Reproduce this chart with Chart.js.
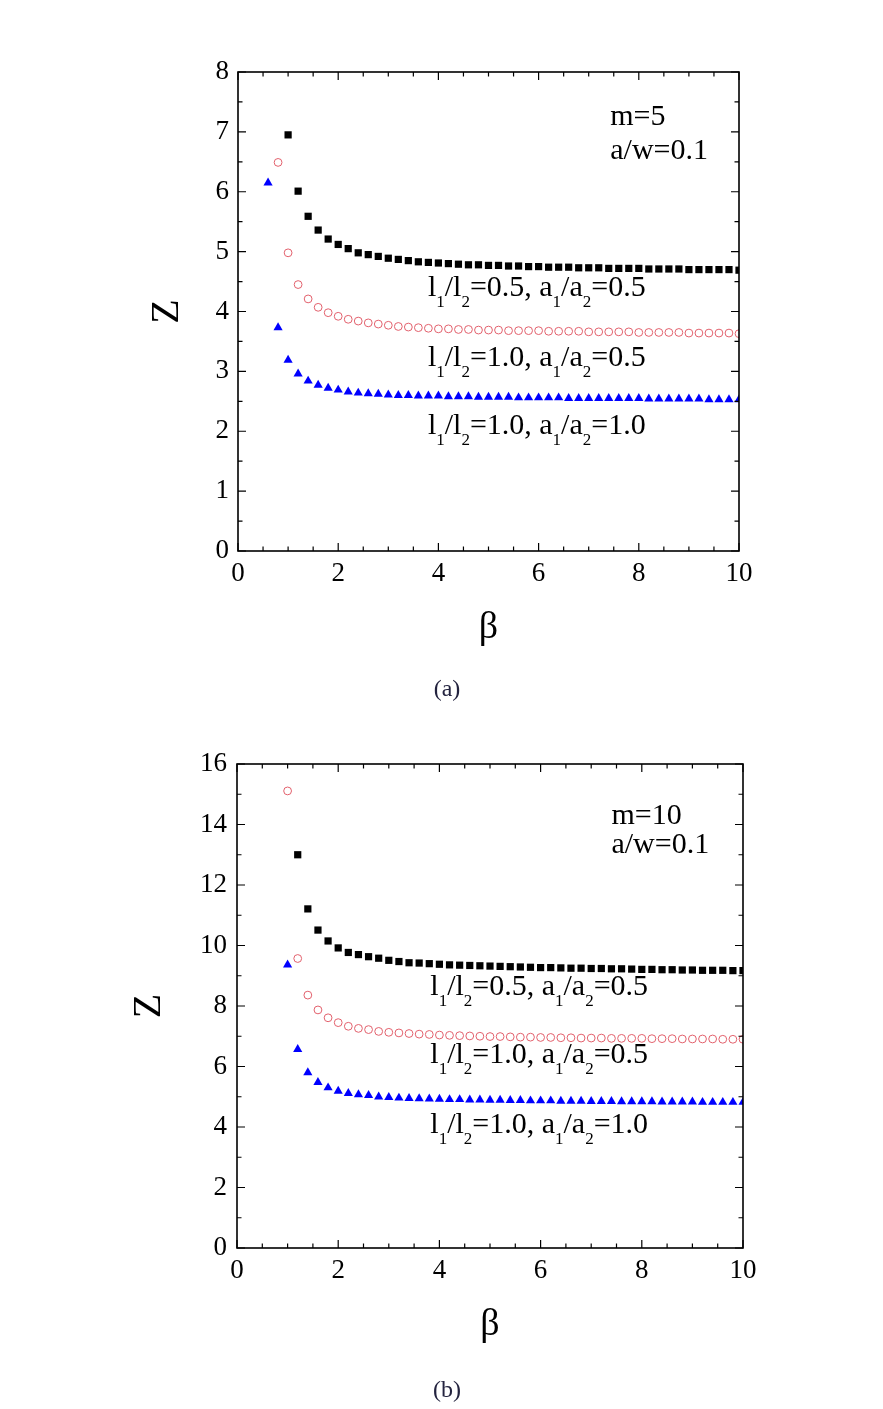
<!DOCTYPE html>
<html>
<head>
<meta charset="utf-8">
<script src="https://cdn.jsdelivr.net/npm/chart.js@4.4.0/dist/chart.umd.min.js"></script>
<style>
  html, body { margin: 0; padding: 0; background: #fff; }
  #wrap { position: relative; width: 883px; height: 1409px; overflow: hidden; }
  .panel { position: absolute; left: 0; width: 883px; }
  .cap {
    position: absolute; left: 397px; width: 100px; text-align: center;
    font: 24px/32px "Liberation Serif", "Times New Roman", serif; color: #23233f;
  }
</style>
</head>
<body>
<div id="wrap">
  <div class="panel" style="top:0"><canvas id="chartA" width="883" height="700"></canvas></div>
  <div class="cap" style="top:672px">(a)</div>
  <div class="panel" style="top:700px"><canvas id="chartB" width="883" height="709"></canvas></div>
  <div class="cap" style="top:1373px">(b)</div>
</div>
<script>
// ===== Data: panel (a), m=5 =====
const betaBlackA = [1.0,1.2,1.4,1.6,1.8,2.0,2.2,2.4,2.6,2.8,3.0,3.2,3.4,3.6,3.8,4.0,4.2,4.4,4.6,4.8,5.0,5.2,5.4,5.6,5.8,6.0,6.2,6.4,6.6,6.8,7.0,7.2,7.4,7.6,7.8,8.0,8.2,8.4,8.6,8.8,9.0,9.2,9.4,9.6,9.8,10.0];
const zBlackA = [6.95,6.01,5.59,5.36,5.21,5.12,5.05,4.98,4.95,4.92,4.89,4.87,4.85,4.83,4.82,4.81,4.80,4.79,4.78,4.78,4.77,4.77,4.76,4.76,4.75,4.75,4.74,4.74,4.74,4.73,4.73,4.73,4.72,4.72,4.72,4.72,4.71,4.71,4.71,4.71,4.70,4.70,4.70,4.70,4.70,4.69];

const betaRedA = [0.8,1.0,1.2,1.4,1.6,1.8,2.0,2.2,2.4,2.6,2.8,3.0,3.2,3.4,3.6,3.8,4.0,4.2,4.4,4.6,4.8,5.0,5.2,5.4,5.6,5.8,6.0,6.2,6.4,6.6,6.8,7.0,7.2,7.4,7.6,7.8,8.0,8.2,8.4,8.6,8.8,9.0,9.2,9.4,9.6,9.8,10.0];
const zRedA = [6.49,4.98,4.45,4.21,4.07,3.98,3.92,3.87,3.84,3.81,3.79,3.77,3.75,3.74,3.73,3.72,3.71,3.71,3.70,3.70,3.69,3.69,3.69,3.68,3.68,3.68,3.68,3.67,3.67,3.67,3.67,3.66,3.66,3.66,3.66,3.66,3.65,3.65,3.65,3.65,3.65,3.64,3.64,3.64,3.64,3.64,3.63];

const betaBlueA = [0.6,0.8,1.0,1.2,1.4,1.6,1.8,2.0,2.2,2.4,2.6,2.8,3.0,3.2,3.4,3.6,3.8,4.0,4.2,4.4,4.6,4.8,5.0,5.2,5.4,5.6,5.8,6.0,6.2,6.4,6.6,6.8,7.0,7.2,7.4,7.6,7.8,8.0,8.2,8.4,8.6,8.8,9.0,9.2,9.4,9.6,9.8,10.0];
const zBlueA = [6.15,3.73,3.19,2.96,2.84,2.77,2.72,2.69,2.66,2.64,2.63,2.62,2.61,2.60,2.60,2.59,2.59,2.59,2.58,2.58,2.58,2.57,2.57,2.57,2.57,2.56,2.56,2.56,2.56,2.56,2.55,2.55,2.55,2.55,2.55,2.55,2.55,2.55,2.54,2.54,2.54,2.54,2.54,2.54,2.53,2.53,2.53,2.53];

// ===== Data: panel (b), m=10 =====
const betaBlackB = [1.2,1.4,1.6,1.8,2.0,2.2,2.4,2.6,2.8,3.0,3.2,3.4,3.6,3.8,4.0,4.2,4.4,4.6,4.8,5.0,5.2,5.4,5.6,5.8,6.0,6.2,6.4,6.6,6.8,7.0,7.2,7.4,7.6,7.8,8.0,8.2,8.4,8.6,8.8,9.0,9.2,9.4,9.6,9.8,10.0];
const zBlackB = [13.0,11.21,10.51,10.15,9.92,9.77,9.70,9.63,9.58,9.51,9.47,9.43,9.42,9.40,9.38,9.36,9.35,9.34,9.33,9.32,9.31,9.30,9.29,9.28,9.27,9.27,9.26,9.25,9.25,9.24,9.24,9.23,9.23,9.22,9.21,9.21,9.20,9.20,9.19,9.19,9.18,9.18,9.18,9.17,9.17];

const betaRedB = [1.0,1.2,1.4,1.6,1.8,2.0,2.2,2.4,2.6,2.8,3.0,3.2,3.4,3.6,3.8,4.0,4.2,4.4,4.6,4.8,5.0,5.2,5.4,5.6,5.8,6.0,6.2,6.4,6.6,6.8,7.0,7.2,7.4,7.6,7.8,8.0,8.2,8.4,8.6,8.8,9.0,9.2,9.4,9.6,9.8,10.0];
const zRedB = [15.11,9.57,8.36,7.87,7.61,7.45,7.33,7.26,7.22,7.16,7.13,7.11,7.09,7.07,7.06,7.04,7.03,7.02,7.01,7.00,6.99,6.99,6.98,6.97,6.97,6.96,6.96,6.95,6.95,6.94,6.94,6.94,6.93,6.93,6.93,6.93,6.92,6.92,6.92,6.91,6.91,6.91,6.91,6.90,6.90,6.90];

const betaBlueB = [1.0,1.2,1.4,1.6,1.8,2.0,2.2,2.4,2.6,2.8,3.0,3.2,3.4,3.6,3.8,4.0,4.2,4.4,4.6,4.8,5.0,5.2,5.4,5.6,5.8,6.0,6.2,6.4,6.6,6.8,7.0,7.2,7.4,7.6,7.8,8.0,8.2,8.4,8.6,8.8,9.0,9.2,9.4,9.6,9.8,10.0];
const zBlueB = [9.36,6.57,5.80,5.48,5.30,5.19,5.11,5.07,5.05,5.00,4.98,4.96,4.95,4.94,4.93,4.92,4.91,4.91,4.90,4.90,4.89,4.89,4.88,4.88,4.87,4.87,4.87,4.86,4.86,4.86,4.85,4.85,4.85,4.84,4.84,4.84,4.84,4.83,4.83,4.83,4.83,4.82,4.82,4.82,4.82,4.82];

// ===== Labels =====
const seriesLabels = ["l_1/l_2=0.5, a_1/a_2=0.5", "l_1/l_2=1.0, a_1/a_2=0.5", "l_1/l_2=1.0, a_1/a_2=1.0"];
const noteA = ["m=5", "a/w=0.1"];
const noteB = ["m=10", "a/w=0.1"];
const xTitle = "β";
const yTitle = "Z";

const SERIF = "'Liberation Serif', 'Times New Roman', serif";

// ===== Helpers =====
function pts(xs, ys) {
  return xs.map((v, i) => ({ x: v, y: ys[i] }));
}

// split "l_1/l_2" into runs of [text, isSub]
function parseRuns(str) {
  const runs = [];
  let buf = "";
  for (let i = 0; i < str.length; i++) {
    if (str[i] === "_") {
      if (buf) runs.push([buf, false]);
      buf = "";
      runs.push([str[i + 1], true]);
      i++;
    } else {
      buf += str[i];
    }
  }
  if (buf) runs.push([buf, false]);
  return runs;
}

// frame + inward ticks on all four sides
const frameTicks = {
  id: "frameTicks",
  afterDatasetsDraw(chart, args, opts) {
    const { ctx, chartArea: a, scales: { x, y } } = chart;
    ctx.save();
    ctx.strokeStyle = "#000";
    ctx.lineWidth = 1.2;
    ctx.beginPath();
    const xn = Math.round((x.max - x.min) / opts.xMinor);
    for (let i = 0; i <= xn; i++) {
      const v = x.min + i * opts.xMinor;
      const px = x.getPixelForValue(v);
      const len = (i % opts.xEvery === 0) ? 8 : 4.5;
      ctx.moveTo(px, a.bottom); ctx.lineTo(px, a.bottom - len);
      ctx.moveTo(px, a.top); ctx.lineTo(px, a.top + len);
    }
    const yn = Math.round((y.max - y.min) / opts.yMinor);
    for (let i = 0; i <= yn; i++) {
      const v = y.min + i * opts.yMinor;
      const py = y.getPixelForValue(v);
      const len = (i % opts.yEvery === 0) ? 8 : 4.5;
      ctx.moveTo(a.left, py); ctx.lineTo(a.left + len, py);
      ctx.moveTo(a.right, py); ctx.lineTo(a.right - len, py);
    }
    ctx.stroke();
    ctx.lineWidth = 1.6;
    ctx.strokeRect(a.left, a.top, a.right - a.left, a.bottom - a.top);
    ctx.restore();
  }
};

// text notes placed in data coordinates
const notes = {
  id: "notes",
  afterDraw(chart, args, opts) {
    const { ctx, scales: { x, y } } = chart;
    ctx.save();
    ctx.fillStyle = "#000";
    ctx.textBaseline = "alphabetic";
    ctx.textAlign = "left";
    opts.items.forEach(it => {
      let px = x.getPixelForValue(it.x);
      const py = y.getPixelForValue(it.y);
      parseRuns(it.text).forEach(([t, sub]) => {
        ctx.font = (sub ? it.sub : it.size) + "px " + SERIF;
        ctx.fillText(t, px, py + (sub ? it.drop : 0));
        px += ctx.measureText(t).width;
      });
    });
    ctx.restore();
  }
};

function makeChart(id, p) {
  const tickFont = { family: SERIF, size: 27 };
  return new Chart(document.getElementById(id), {
    type: "scatter",
    data: {
      datasets: [
        { data: p.black, pointStyle: "rect", radius: 5.1, backgroundColor: "#000", borderWidth: 0, clip: 0 },
        { data: p.red, pointStyle: "circle", radius: 3.9, backgroundColor: "rgba(0,0,0,0)", borderColor: "#e2606c", borderWidth: 1, clip: 0 },
        { data: p.blue, pointStyle: "triangle", radius: 5.3, backgroundColor: "#0000ff", borderWidth: 0, clip: 0 }
      ]
    },
    options: {
      responsive: false,
      animation: false,
      events: [],
      layout: { padding: p.pad },
      plugins: {
        legend: { display: false },
        tooltip: { enabled: false },
        frameTicks: { xMinor: 0.5, xEvery: 4, yMinor: p.yMinor, yEvery: 2 },
        notes: { items: p.notes }
      },
      scales: {
        x: {
          type: "linear", min: 0, max: 10,
          ticks: { stepSize: 2, padding: 7, font: tickFont, color: "#000", maxRotation: 0 },
          grid: { display: false, drawTicks: false },
          border: { display: false },
          title: { display: true, text: xTitle, font: { family: SERIF, size: 38 }, color: "#000", padding: { top: 0, bottom: 0 } },
          afterFit: s => { s.height = 100; }
        },
        y: {
          type: "linear", min: 0, max: p.yMax,
          ticks: { stepSize: p.yStep, padding: p.yPad, font: tickFont, color: "#000" },
          grid: { display: false, drawTicks: false },
          border: { display: false },
          title: { display: true, text: yTitle, font: { family: SERIF, size: 40 }, color: "#000", padding: { top: p.yTitlePad, bottom: 0 } },
          afterFit: s => { s.width = 120; }
        }
      }
    },
    plugins: [frameTicks, notes]
  });
}

// ===== Panel (a) =====
makeChart("chartA", {
  black: pts(betaBlackA, zBlackA),
  red: pts(betaRedA, zRedA),
  blue: pts(betaBlueA, zBlueA),
  yMax: 8, yStep: 1, yMinor: 0.5, yPad: 9, yTitlePad: 25,
  pad: { left: 118, right: 144, top: 72, bottom: 49 },
  notes: [
    { text: noteA[0], x: 7.43, y: 7.12, size: 30 },
    { text: noteA[1], x: 7.43, y: 6.54, size: 30 },
    { text: seriesLabels[0], x: 3.79, y: 4.26, size: 30, sub: 17, drop: 11 },
    { text: seriesLabels[1], x: 3.79, y: 3.09, size: 30, sub: 17, drop: 11 },
    { text: seriesLabels[2], x: 3.79, y: 1.95, size: 30, sub: 17, drop: 11 }
  ]
});

// ===== Panel (b) =====
makeChart("chartB", {
  black: pts(betaBlackB, zBlackB),
  red: pts(betaRedB, zRedB),
  blue: pts(betaBlueB, zBlueB),
  yMax: 16, yStep: 2, yMinor: 1, yPad: 10, yTitlePad: 8,
  pad: { left: 117, right: 140, top: 64, bottom: 61 },
  notes: [
    { text: noteB[0], x: 7.40, y: 14.02, size: 30 },
    { text: noteB[1], x: 7.40, y: 13.07, size: 30 },
    { text: seriesLabels[0], x: 3.82, y: 8.36, size: 30, sub: 17, drop: 11 },
    { text: seriesLabels[1], x: 3.82, y: 6.12, size: 30, sub: 17, drop: 11 },
    { text: seriesLabels[2], x: 3.82, y: 3.80, size: 30, sub: 17, drop: 11 }
  ]
});
</script>
</body>
</html>
